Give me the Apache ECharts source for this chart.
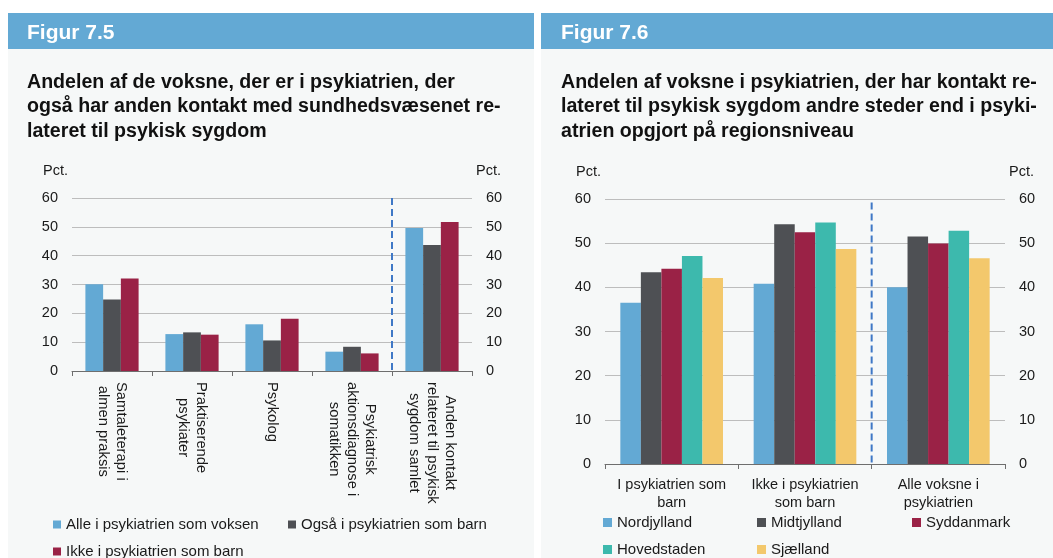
<!DOCTYPE html>
<html>
<head>
<meta charset="utf-8">
<script src="https://cdn.jsdelivr.net/npm/echarts@6/dist/echarts.min.js"></script>
<style>
html,body{margin:0;padding:0;background:#fff;}
#c{width:1053px;height:558px;}
</style>
</head>
<body>
<div id="c"></div>
<script>
// ---- Data: Figur 7.5 ----
const cats75 = ['Samtaleterapi i\nalmen praksis', 'Praktiserende\npsykiater', 'Psykolog', 'Psykiatrisk\naktionsdiagnose i\nsomatikken', 'Anden kontakt\nrelateret til psykisk\nsygdom samlet'];
const names75 = ['Alle i psykiatrien som voksen', 'Også i psykiatrien som barn', 'Ikke i psykiatrien som barn'];
const alleVoksen = [30.1, 12.8, 16.2, 6.7, 49.6];
const ogsaBarn = [24.8, 13.4, 10.6, 8.4, 43.7];
const ikkeBarn = [32.1, 12.6, 18.1, 6.1, 51.7];

// ---- Data: Figur 7.6 ----
const cats76 = ['I psykiatrien som\nbarn', 'Ikke i psykiatrien\nsom barn', 'Alle voksne i\npsykiatrien'];
const names76 = ['Nordjylland', 'Midtjylland', 'Syddanmark', 'Hovedstaden', 'Sjælland'];
const nordjylland = [36.5, 40.8, 40.0];
const midtjylland = [43.4, 54.3, 51.5];
const syddanmark = [44.2, 52.5, 49.9];
const hovedstaden = [47.1, 54.7, 52.8];
const sjaelland = [42.1, 48.7, 46.6];

const yTicks = [0, 10, 20, 30, 40, 50, 60];

const FONT = '"Liberation Sans", Arial, Helvetica, sans-serif';
const cBlue = '#63a9d4', cDark = '#4e5054', cRed = '#9a2246', cTeal = '#3db9ad', cYellow = '#f3c86c';
const txt = '#1a1a1a';

const chart = echarts.init(document.getElementById('c'), null, {renderer: 'canvas'});

function yAxisPair(gridIndex) {
  const base = {
    type: 'value', gridIndex: gridIndex, min: yTicks[0], max: yTicks[yTicks.length - 1], interval: yTicks[1] - yTicks[0],
    axisLine: {show: false}, axisTick: {show: false},
    axisLabel: {color: txt, fontSize: 14.5, fontFamily: FONT, margin: 14}
  };
  return [
    Object.assign({}, base, {position: 'left', splitLine: {show: true, lineStyle: {color: '#bdbdbd', width: 1}}}),
    Object.assign({}, base, {position: 'right', splitLine: {show: false}})
  ];
}

function richRotLabel(v) {
  return v.split('\n').map(s => '{c|' + s + '}').join('\n');
}

const ya = yAxisPair(0), yb = yAxisPair(1);

const series = [];
[[alleVoksen, cBlue], [ogsaBarn, cDark], [ikkeBarn, cRed]].forEach((d, i) => {
  series.push({
    type: 'bar', name: names75[i], xAxisIndex: 0, yAxisIndex: 0, data: d[0],
    itemStyle: {color: d[1]}, barGap: '0%', barCategoryGap: '33.5%', animation: false
  });
});
[[nordjylland, cBlue], [midtjylland, cDark], [syddanmark, cRed], [hovedstaden, cTeal], [sjaelland, cYellow]].forEach((d, i) => {
  series.push({
    type: 'bar', name: names76[i], xAxisIndex: 1, yAxisIndex: 2, data: d[0],
    itemStyle: {color: d[1]}, barGap: '0%', barCategoryGap: '23%', animation: false
  });
});

// legends, one per item for exact placement
const legendPos75 = [[53, 517], [288, 517], [53, 544]];
const legendPos76 = [[603, 515], [757, 515], [912, 515], [603, 542], [757, 542]];
const legends = [];
names75.forEach((n, i) => legends.push({
  data: [n], left: legendPos75[i][0], top: legendPos75[i][1], padding: 0,
  itemWidth: 8, itemHeight: 8, icon: 'rect', selectedMode: false,
  textStyle: {fontSize: 15, color: txt, fontFamily: FONT}
}));
names76.forEach((n, i) => legends.push({
  data: [n], left: legendPos76[i][0], top: legendPos76[i][1], padding: 0,
  itemWidth: 9, itemHeight: 9, icon: 'rect', selectedMode: false,
  textStyle: {fontSize: 15, color: txt, fontFamily: FONT}
}));

const option = {
  animation: false,
  backgroundColor: '#ffffff',
  title: [
    {text: 'Figur 7.5', left: 27, top: 22.5, padding: 0, textStyle: {color: '#ffffff', fontSize: 21, fontWeight: 'bold', fontFamily: FONT}},
    {text: 'Figur 7.6', left: 561, top: 22.5, padding: 0, textStyle: {color: '#ffffff', fontSize: 21, fontWeight: 'bold', fontFamily: FONT}},
    {text: 'Andelen af de voksne, der er i psykiatrien, der\nogså har anden kontakt med sundhedsvæsenet re-\nlateret til psykisk sygdom',
      left: 27, top: 70, padding: 0,
      textStyle: {color: '#111', fontSize: 19.6, fontWeight: 'bold', lineHeight: 24.5, fontFamily: FONT}},
    {text: 'Andelen af voksne i psykiatrien, der har kontakt re-\nlateret til psykisk sygdom andre steder end i psyki-\natrien opgjort på regionsniveau',
      left: 561, top: 70, padding: 0,
      textStyle: {color: '#111', fontSize: 19.6, fontWeight: 'bold', lineHeight: 24.5, fontFamily: FONT}}
  ],
  legend: legends,
  grid: [
    {left: 72, top: 198, width: 400, height: 173, containLabel: false},
    {left: 605, top: 199, width: 400, height: 265, containLabel: false}
  ],
  xAxis: [
    {type: 'category', gridIndex: 0, data: cats75,
      axisLine: {lineStyle: {color: '#6e6e6e', width: 1}},
      axisTick: {show: true, length: 5, alignWithLabel: false, lineStyle: {color: '#6e6e6e'}},
      axisLabel: {rotate: -90, margin: 11, interval: 0, formatter: richRotLabel,
        rich: {c: {align: 'center', fontSize: 14.8, lineHeight: 18, color: txt, fontFamily: FONT}}}},
    {type: 'category', gridIndex: 1, data: cats76,
      axisLine: {lineStyle: {color: '#6e6e6e', width: 1}},
      axisTick: {show: true, length: 5, alignWithLabel: false, lineStyle: {color: '#6e6e6e'}},
      axisLabel: {margin: 12, interval: 0, fontSize: 14.5, lineHeight: 18, color: txt, fontFamily: FONT}}
  ],
  yAxis: [ya[0], ya[1], Object.assign({}, yb[0], {gridIndex: 1}), Object.assign({}, yb[1], {gridIndex: 1})],
  series: series,
  graphic: [
    {type: 'rect', silent: true, z: -10, shape: {x: 8, y: 49, width: 526, height: 509}, style: {fill: '#f6f8f8'}},
    {type: 'rect', silent: true, z: -10, shape: {x: 541, y: 49, width: 512, height: 509}, style: {fill: '#f6f8f8'}},
    {type: 'rect', silent: true, z: -10, shape: {x: 8, y: 13, width: 526, height: 36}, style: {fill: '#63a9d4'}},
    {type: 'rect', silent: true, z: -10, shape: {x: 541, y: 13, width: 512, height: 36}, style: {fill: '#63a9d4'}},
    {type: 'text', left: 43, top: 163, style: {text: 'Pct.', fontSize: 14.5, fill: txt, font: '14.5px ' + FONT}},
    {type: 'text', left: 476, top: 163, style: {text: 'Pct.', fontSize: 14.5, fill: txt, font: '14.5px ' + FONT}},
    {type: 'text', left: 576, top: 164, style: {text: 'Pct.', fontSize: 14.5, fill: txt, font: '14.5px ' + FONT}},
    {type: 'text', left: 1009, top: 164, style: {text: 'Pct.', fontSize: 14.5, fill: txt, font: '14.5px ' + FONT}}
  ]
};
chart.setOption(option);

// dashed separators at category boundaries, positioned through the axes' scales
function boundaryX(xAxisIndex, idxA, idxB) {
  const a = chart.convertToPixel({xAxisIndex: xAxisIndex}, idxA);
  const b = chart.convertToPixel({xAxisIndex: xAxisIndex}, idxB);
  return (a + b) / 2;
}
const x1 = boundaryX(0, 3, 4);
const y1a = chart.convertToPixel({yAxisIndex: 0}, 60), y1b = chart.convertToPixel({yAxisIndex: 0}, 0);
const x2 = boundaryX(1, 1, 2);
const y2a = chart.convertToPixel({yAxisIndex: 2}, 59.2), y2b = chart.convertToPixel({yAxisIndex: 2}, 0);
const dashStyle = {stroke: '#3f78c6', lineWidth: 2, lineDash: [7, 4]};
const g = option.graphic.slice();
g.push({type: 'line', silent: true, z: 50, shape: {x1: x1, y1: y1a, x2: x1, y2: y1b}, style: dashStyle});
g.push({type: 'line', silent: true, z: 50, shape: {x1: x2, y1: y2a, x2: x2, y2: y2b}, style: dashStyle});
chart.setOption({graphic: g}, {replaceMerge: ['graphic']});
</script>
</body>
</html>
